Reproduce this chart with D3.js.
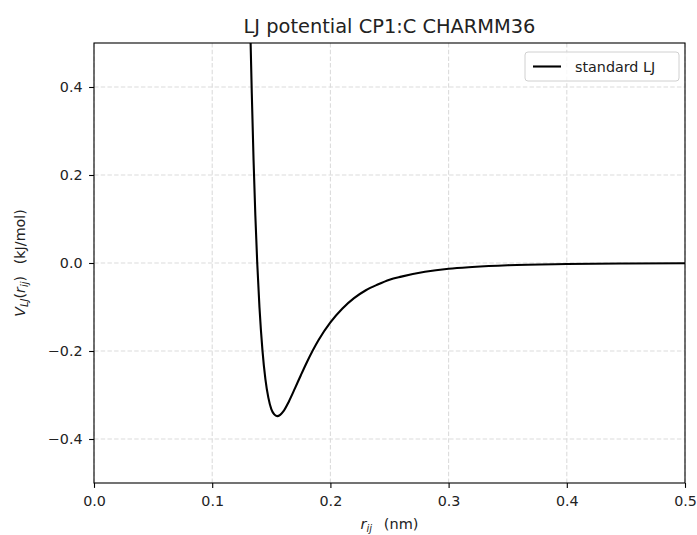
<!DOCTYPE html>
<html>
<head>
<meta charset="utf-8">
<script src="https://cdn.jsdelivr.net/npm/d3@7"></script>
<style>
  body { margin: 0; background: #fff; }
  svg { display: block; font-family: "DejaVu Sans", sans-serif; }
</style>
</head>
<body>
<div class="chart"></div>
<script>
var margin = { top: 43, right: 12, bottom: 52, left: 94 },
  width = 697 - margin.left - margin.right,
  height = 535 - margin.top - margin.bottom;

// (r in nm, V in kJ/mol)
var rValues = [0.1300, 0.1325, 0.1335, 0.1350, 0.1365, 0.1381, 0.1400, 0.1425, 0.1450,
  0.1475, 0.1500, 0.1525, 0.1550, 0.1575, 0.1600, 0.1650, 0.1700, 0.1750, 0.1800,
  0.1900, 0.2000, 0.2100, 0.2200, 0.2300, 0.2400, 0.2500, 0.2600, 0.2800, 0.3000,
  0.3200, 0.3500, 0.4000, 0.4500, 0.5000];
var vValues = [0.875, 0.500, 0.385, 0.233, 0.108, 0.000, -0.101, -0.198, -0.264,
  -0.306, -0.332, -0.344, -0.348, -0.345, -0.338, -0.314, -0.285, -0.255, -0.226,
  -0.175, -0.135, -0.104, -0.080, -0.062, -0.049, -0.038, -0.031, -0.020, -0.013,
  -0.009, -0.005, -0.0024, -0.0012, -0.0006];

var xTicks = [0.0, 0.1, 0.2, 0.3, 0.4, 0.5];
var yTicks = [-0.4, -0.2, 0.0, 0.2, 0.4];
var seriesName = 'standard LJ';

var data = rValues.map(function (r, i) { return { r: r, v: vValues[i] }; });

var svg = d3.select('.chart').append('svg')
  .attr('width', 697)
  .attr('height', 535);

var x = d3.scaleLinear().domain([0, 0.5]).range([0, width]);
var y = d3.scaleLinear().domain([-0.5, 0.5]).range([height, 0]);

var g = svg.append('g')
  .attr('transform', 'translate(' + margin.left + ',' + margin.top + ')');

svg.append('defs').append('clipPath').attr('id', 'plot-clip')
  .append('rect').attr('width', width).attr('height', height);

// grid
g.append('g')
  .attr('class', 'grid')
  .selectAll('line.gx')
  .data(xTicks)
  .enter().append('line')
  .attr('x1', function (d) { return x(d); })
  .attr('x2', function (d) { return x(d); })
  .attr('y1', 0)
  .attr('y2', height);
g.select('.grid')
  .selectAll('line.gy')
  .data(yTicks)
  .enter().append('line')
  .attr('class', 'gy')
  .attr('x1', 0)
  .attr('x2', width)
  .attr('y1', function (d) { return y(d); })
  .attr('y2', function (d) { return y(d); });
g.selectAll('.grid line')
  .style('stroke', '#dcdcdc')
  .style('stroke-width', 1.1)
  .style('stroke-dasharray', '4.5,2.2');

// the curve
var line = d3.line()
  .x(function (d) { return x(d.r); })
  .y(function (d) { return y(d.v); })
  .curve(d3.curveMonotoneX);

g.append('path')
  .datum(data)
  .attr('clip-path', 'url(#plot-clip)')
  .attr('d', line)
  .style('fill', 'none')
  .style('stroke', 'black')
  .style('stroke-width', 2.1);

// axes
var fmt = function (d) { return d3.format('.1f')(d).replace('-', '\u2212'); };
var xAxis = d3.axisBottom(x).tickValues(xTicks).tickFormat(fmt).tickSize(4.9).tickPadding(7.5);
var yAxis = d3.axisLeft(y).tickValues(yTicks).tickFormat(fmt).tickSize(4.9).tickPadding(6.5);

g.append('g')
  .attr('class', 'x axis')
  .attr('transform', 'translate(0,' + height + ')')
  .call(xAxis);
g.append('g')
  .attr('class', 'y axis')
  .call(yAxis);

g.selectAll('.axis .domain').remove();
g.selectAll('.axis line').style('stroke', 'black').style('stroke-width', 1.1);
g.selectAll('.axis text')
  .style('font-family', '"DejaVu Sans", sans-serif')
  .style('font-size', '14.3px')
  .attr('fill', '#222');

// frame
g.append('rect')
  .attr('width', width)
  .attr('height', height)
  .style('fill', 'none')
  .style('stroke', 'black')
  .style('stroke-width', 1.1);

// title
svg.append('text')
  .attr('x', margin.left + width / 2)
  .attr('y', 33)
  .style('text-anchor', 'middle')
  .style('font-size', '19.4px')
  .attr('fill', '#222')
  .text('LJ potential CP1:C CHARMM36');

// x label: r_ij (nm)
var xl = svg.append('text')
  .attr('x', margin.left + width / 2)
  .attr('y', 529)
  .style('text-anchor', 'middle')
  .style('font-size', '14.5px')
  .attr('fill', '#222');
xl.append('tspan').style('font-style', 'italic').text('r');
xl.append('tspan').attr('dy', 3).style('font-size', '10px').style('font-style', 'italic').text('ij');
xl.append('tspan').attr('dy', -3).text('\u2002 (nm)');

// y label: V_LJ(r_ij) (kJ/mol)
var yl = svg.append('text')
  .attr('transform', 'translate(25,' + (margin.top + height / 2) + ')rotate(-90)')
  .style('text-anchor', 'middle')
  .style('font-size', '14.3px')
  .attr('fill', '#222');
yl.append('tspan').style('font-style', 'italic').text('V');
yl.append('tspan').attr('dy', 3).style('font-size', '10px').style('font-style', 'italic').text('LJ');
yl.append('tspan').attr('dy', -3).text('(');
yl.append('tspan').style('font-style', 'italic').text('r');
yl.append('tspan').attr('dy', 3).style('font-size', '10px').style('font-style', 'italic').text('ij');
yl.append('tspan').attr('dy', -3).text(')\u2002 (kJ/mol)');

// legend
var leg = g.append('g')
  .attr('transform', 'translate(' + (width - 160) + ',9)');
leg.append('rect')
  .attr('width', 154)
  .attr('height', 29)
  .attr('rx', 3)
  .style('fill', 'rgba(255,255,255,0.8)')
  .style('stroke', '#d0d0d0')
  .style('stroke-width', 1);
leg.append('line')
  .attr('x1', 8).attr('x2', 36)
  .attr('y1', 14.5).attr('y2', 14.5)
  .style('stroke', 'black')
  .style('stroke-width', 2.1);
leg.append('text')
  .attr('x', 50)
  .attr('y', 19.5)
  .style('font-size', '14.3px')
  .attr('fill', '#222')
  .text(seriesName);
</script>
</body>
</html>
